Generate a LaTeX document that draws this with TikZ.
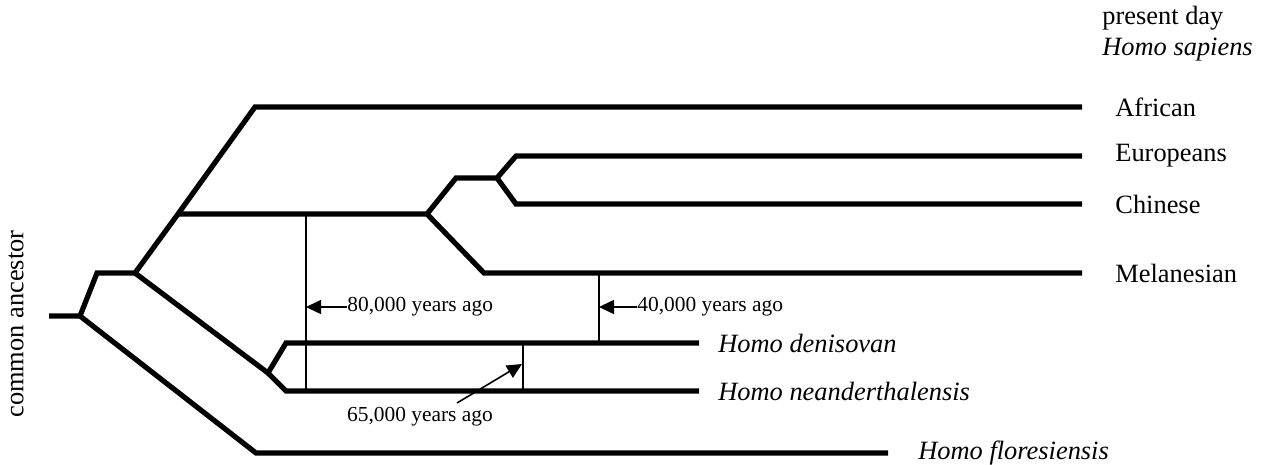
\documentclass[tikz,border=0pt]{standalone}
\usepackage{fontspec}
\setmainfont{Liberation Serif}
\usetikzlibrary{arrows.meta}

\tikzset{
    branch/.style={line width=2.6pt, line join=miter},
    tick/.style={line width=0.8pt},
    ago/.style={line width=0.8pt, -{Triangle[length=7.5pt, width=7pt]}},
    lbl/.style={anchor=west, inner sep=0pt, font=\fontsize{13.2}{15}\selectfont},
    sml/.style={inner sep=0pt, font=\fontsize{10.7}{12}\selectfont}
}

\begin{document}
\begin{tikzpicture}[x=0.5pt, y=-0.5pt]
        \useasboundingbox (0,0) rectangle (1263,465);
        \coordinate (r0) at (49,316);
        \coordinate (r) at (80,316);
        \coordinate (a) at (97,273);
        \coordinate (b) at (135,273);
        \coordinate (c) at (178,214);
        \coordinate (af) at (255,107);
        \coordinate (afe) at (1082,107);
        \coordinate (m1) at (427,214);
        \coordinate (m2) at (456,178);
        \coordinate (m3) at (497,178);
        \coordinate (eu) at (516,156);
        \coordinate (eue) at (1082,156);
        \coordinate (ch) at (516,204);
        \coordinate (che) at (1082,204);
        \coordinate (me) at (484,273);
        \coordinate (mee) at (1082,273);
        \coordinate (d) at (268,373);
        \coordinate (de) at (286,343);
        \coordinate (dee) at (699,343);
        \coordinate (ne) at (286,391);
        \coordinate (nee) at (699,391);
        \coordinate (fl) at (256,453);
        \coordinate (fle) at (888,453);
        \draw[branch] (r0)--(r)--(a)--(b)--(c)--(af)--(afe);
        \draw[branch] (c)--(m1)--(m2)--(m3)--(eu)--(eue);
        \draw[branch] (m3)--(ch)--(che);
        \draw[branch] (m1)--(me)--(mee);
        \draw[branch] (b)--(d)--(de)--(dee);
        \draw[branch] (d)--(ne)--(nee);
        \draw[branch] (r)--(fl)--(fle);
        \coordinate (t80a) at (306,214);
        \coordinate (t80b) at (306,391);
        \coordinate (t40a) at (599,273);
        \coordinate (t40b) at (599,343);
        \coordinate (t65a) at (523,343);
        \coordinate (t65b) at (523,391);
        \draw[tick] (t80a)--(t80b);
        \draw[tick] (t40a)--(t40b);
        \draw[tick] (t65a)--(t65b);
        \node[sml, anchor=west](y80) at (347,307) {80,000 years ago};
        \node[sml, anchor=west](y40) at (637,307) {40,000 years ago};
        \node[sml](y65) at (420,417) {65,000 years ago};
        \draw[ago] (y80.west)--(306,307);
        \draw[ago] (y40.west)--(599,307);
        \draw[ago] (457,403)--(522,364);
        \node[lbl](pd) at (1102,18) {present day};
        \node[lbl](hs) at (1102,50) {\itshape Homo sapiens};
        \node[lbl](afr) at (1115,107) {African};
        \node[lbl](eur) at (1115,156) {Europeans};
        \node[lbl](chi) at (1115,204) {Chinese};
        \node[lbl](mel) at (1115,273) {Melanesian};
        \node[lbl](den) at (718,343) {\itshape Homo denisovan};
        \node[lbl](nea) at (718,391) {\itshape Homo neanderthalensis};
        \node[lbl](flo) at (918,453) {\itshape Homo floresiensis};
        \node[lbl, anchor=center, rotate=90](ca) at (16,324) {common ancestor};
    \end{tikzpicture}
\end{document}
